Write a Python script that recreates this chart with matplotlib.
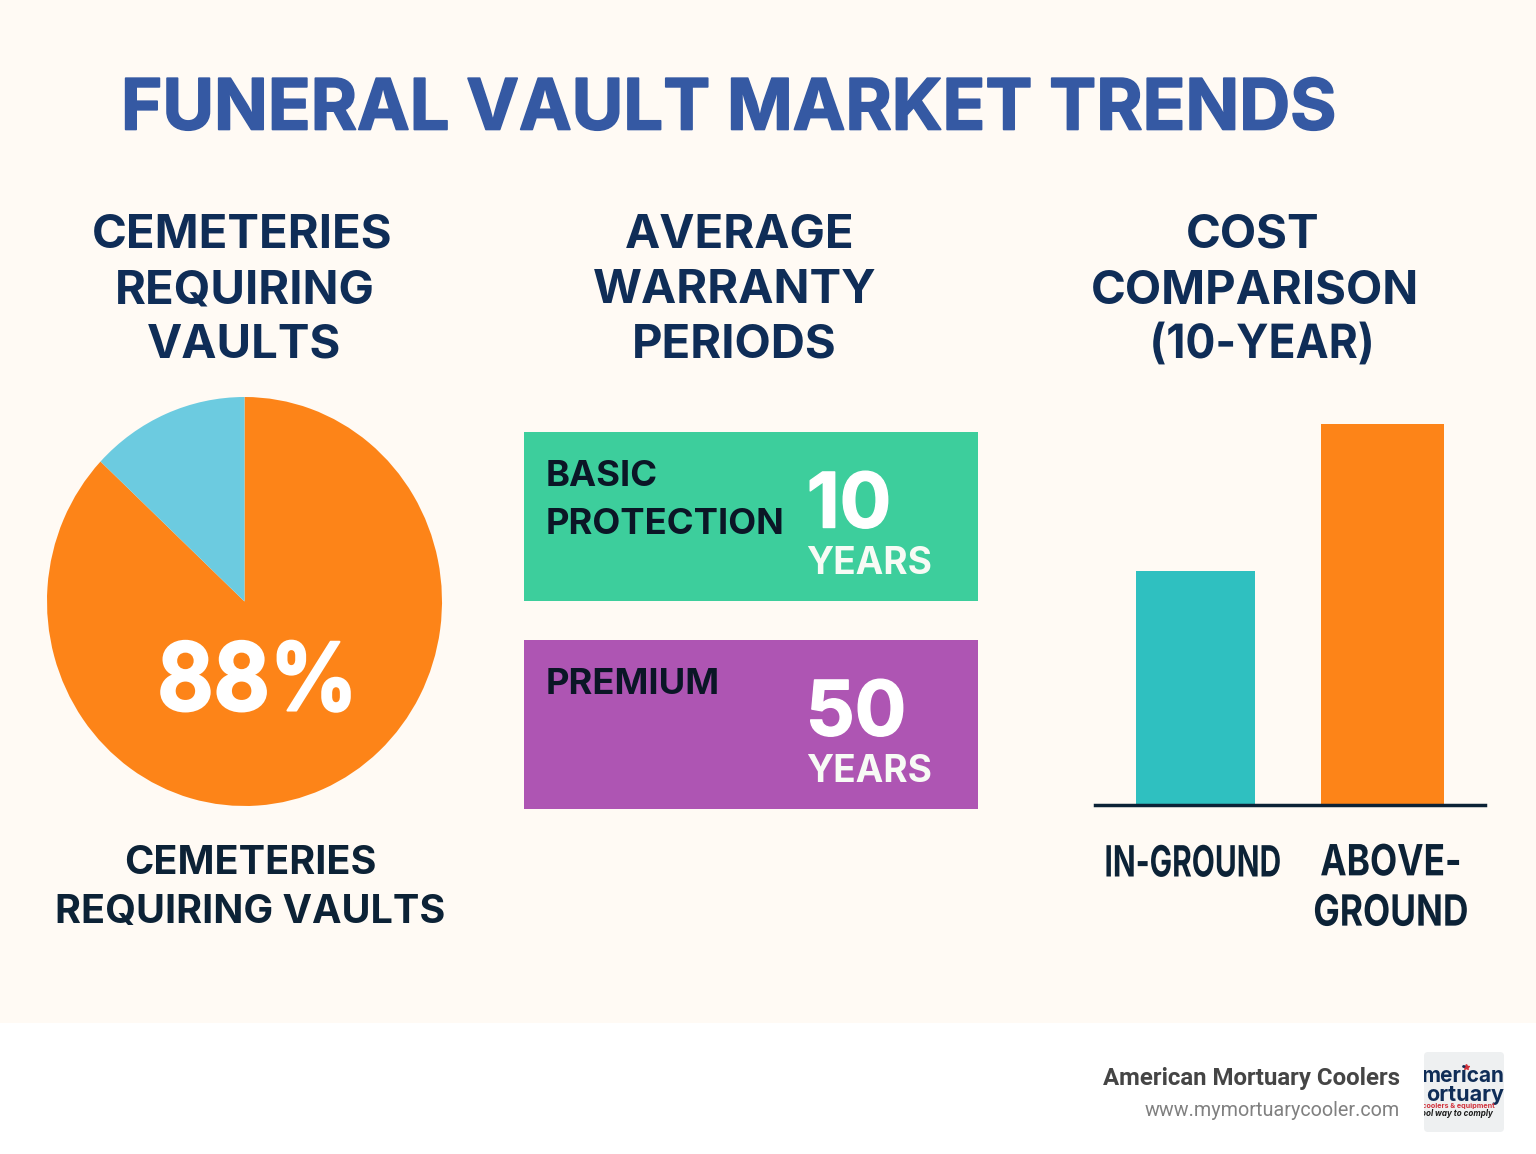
#!/usr/bin/env python3
"""
Funeral vault market trends infographic
"""

import matplotlib
matplotlib.use("Agg")
import matplotlib.pyplot as plt
import matplotlib.patheffects as pe
from matplotlib.patches import Rectangle, FancyBboxPatch
from matplotlib.transforms import Affine2D, Bbox

W, H = 1536, 1154

# data
pie_values = [87, 13]
pie_colors = ["#fd8418", "#6ccbe0"]
pie_label = "88%"
warranty_names = ["BASIC\nPROTECTION", "PREMIUM"]
warranty_years = ["10", "50"]
warranty_unit = "YEARS"
warranty_colors = ["#3dce9c", "#ae55b3"]
cost_categories = ["IN-GROUND", "ABOVE-\nGROUND"]
cost_values = [234, 381]
cost_colors = ["#2fc0c0", "#fd8418"]

NAVY = "#0f2d57"
DARK = "#0c2236"
BLUE = "#3559a3"
BG = "#fffaf4"

plt.rcParams["font.family"] = ["Inter", "DejaVu Sans"]


class Squeeze(pe.Stroke):
    """Narrow a text around a pixel column, no condensed font is installed"""

    def __init__(self, sx, cx, **kwargs):
        super().__init__(**kwargs)
        self.sx = sx
        self.cx = cx

    def draw_path(self, renderer, gc, tpath, affine, rgbFace=None):
        squeezed = affine + Affine2D().translate(-self.cx, 0).scale(self.sx, 1).translate(self.cx, 0)
        super().draw_path(renderer, gc, tpath, squeezed, rgbFace)


def heavy(width):
    # the reference lettering is a bit fatter than Inter bold
    return [pe.Stroke(linewidth=width), pe.Normal()]


def pixel_axes(fig, zorder):
    ax = fig.add_axes([0, 0, 1, 1], zorder=zorder)
    ax.set_xlim(0, W)
    ax.set_ylim(H, 0)
    ax.axis("off")
    return ax


fig = plt.figure(figsize=(W / 100, H / 100), dpi=100, facecolor="white")

bg = pixel_axes(fig, 0)
ov = pixel_axes(fig, 2)
bg.add_patch(Rectangle((0, 0), W, 1023, color=BG, lw=0))

ov.text(728.5, 111, "FUNERAL VAULT MARKET TRENDS", color=BLUE, fontsize=50.8,
        fontweight="bold", ha="center", va="center", path_effects=heavy(1.2))

# three column headings, line by line
for x, y, txt in [(242.5, 248, "CEMETERIES"), (244.5, 303, "REQUIRING"), (244, 358, "VAULTS"),
                  (740, 248, "AVERAGE"), (735, 303, "WARRANTY"), (734.5, 358, "PERIODS"),
                  (1253, 248, "COST"), (1255, 303, "COMPARISON")]:
    ov.text(x, y, txt, color=NAVY, fontsize=34, fontweight="bold", ha="center",
            va="baseline")
ov.text(1262, 358, "(10-YEAR)", color=NAVY, fontsize=34, fontweight="bold", ha="center",
        va="baseline", path_effects=[Squeeze(0.94, 1262)])

# pie
pie_ax = fig.add_axes([47 / W, 1 - 806 / H, 395 / W, 409 / H], zorder=1)
pie_ax.pie(pie_values, colors=pie_colors, startangle=90, counterclock=False,
           radius=1.0, wedgeprops={"lw": 0})
pie_ax.set_aspect("auto")
pie_ax.set_xlim(-1, 1)
pie_ax.set_ylim(-1, 1)
ov.text(257.5, 686, pie_label, color="white", fontsize=68, fontweight="bold",
        ha="center", va="center", path_effects=[Squeeze(0.915, 257.5, linewidth=1.5)])
ov.text(250, 888, "CEMETERIES\nREQUIRING VAULTS", color=DARK, fontsize=28.5,
        fontweight="bold", ha="center", va="center", linespacing=1.38)

# warranty panels
tops = [432, 640]
year_x = [849, 856]
for i in range(len(warranty_names)):
    top = tops[i]
    bg.add_patch(Rectangle((524, top), 454, 169, color=warranty_colors[i], lw=0))
    ov.text(546, top + 28, warranty_names[i], color="#0b1626", fontsize=26.2,
            fontweight="bold", ha="left", va="top", linespacing=1.56)
    ov.text(year_x[i], top + 76, warranty_years[i], color="white", fontsize=55,
            fontweight="bold", ha="center", va="center", path_effects=heavy(1))
    ov.text(806, top + 132, warranty_unit, color="#f7fbf5", fontsize=26.7,
            fontweight="bold", ha="left", va="center")

# cost bars
bar_ax = fig.add_axes([1095 / W, 1 - 805 / H, 390 / W, 382 / H], zorder=1)
bar_ax.bar([0, 1], cost_values, width=[0.636, 0.658], color=cost_colors)
bar_ax.set_xlim(-0.537, 1.548)
bar_ax.set_ylim(0, 382)
bar_ax.axis("off")
ov.plot([1095, 1485], [805, 805], color=DARK, lw=2.5)
for x, y, txt, sx in [(1193, 865, cost_categories[0], 0.695),
                      (1391, 889, cost_categories[1], 0.82)]:
    ov.text(x, y, txt, color=DARK, fontsize=31, fontweight="bold",
            ha="center", va="center", linespacing=1.29,
            path_effects=[Squeeze(sx, x)])

# footer
ov.text(1400, 1078, "American Mortuary Coolers", color="#454545", fontsize=17.3,
        fontweight="bold", family=["Roboto", "Inter"], ha="right", va="center")
ov.text(1400, 1110, "www.mymortuarycooler.com", color="#808080", fontsize=14.2,
        family=["Roboto", "Inter"], ha="right", va="center")

# logo tile, the lettering is cut off at the tile edges just as in the reference
logo = FancyBboxPatch((1424, 1052), 80, 80, boxstyle="round,pad=0,rounding_size=4",
                      fc="#eef0f1", ec="none")
bg.add_patch(logo)
logo_box = Bbox([[1424, H - 1132], [1504, H - 1052]])
for x, y, txt, size, col, style in [(1505, 1076, "merican", 15, NAVY, "normal"),
                                    (1504, 1095, "ortuary", 15.5, NAVY, "normal"),
                                    (1495, 1106, "ary coolers & equipment", 5.2, "#d0323c", "normal"),
                                    (1493, 1114, "ool way to comply", 5.8, "#1a1a1a", "italic")]:
    t = ov.text(x, y, txt, color=col, fontsize=size, fontweight="bold", style=style,
                ha="right", va="center")
    t.set_clip_on(True)
    t.set_clip_box(logo_box)
ov.plot([1466], [1067], marker="*", color="#d0323c", ms=4, lw=0)

plt.savefig("out.png", dpi=100)
plt.close()
